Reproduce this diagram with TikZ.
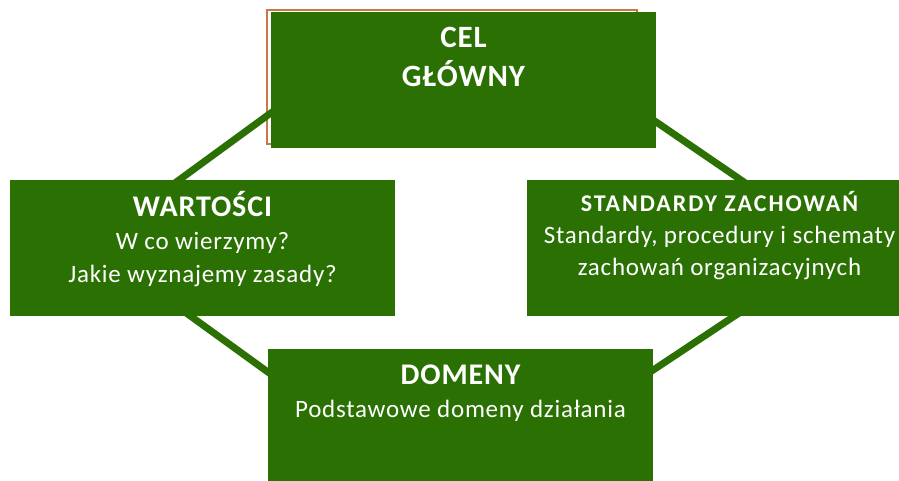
\documentclass[tikz,border=0pt]{standalone}
\usepackage{fontspec}
\setmainfont{Carlito}[LetterSpace=3]
\usetikzlibrary{backgrounds}

\definecolor{zielony}{RGB}{42,112,2}
\definecolor{braz}{RGB}{196,122,69}

\newcommand\tyt[1]{{\fontsize{30}{30}\selectfont\bfseries #1}}

\tikzset{
  pole/.style={rectangle, fill=zielony, minimum width=385pt, minimum height=136pt, inner sep=0pt},
  opis/.style={text=white, align=center, anchor=base, inner sep=0pt, font=\fontsize{25}{33}\selectfont},
  lacznik/.style={draw=zielony, line width=7pt, shorten <=-6pt, shorten >=-6pt}
}

\begin{document}
\begin{tikzpicture}[x=1pt,y=-1pt]
    \useasboundingbox (0,0) rectangle (899,480);
    % pola
    \node[pole] (cel)  at (463.5,80)  {};
    \node[pole] (wart) at (202.5,247.5) {};
    \node[pole] (std)  at (719.5,247.5) {};
    \node[pole] (dom)  at (460.5,417) {};
    % teksty (base = ostatnia linia)
    \node[opis, font=\fontsize{31}{39}\selectfont\bfseries] (celtxt) at ([yshift=-75pt]cel.north) {CEL\\GŁÓWNY};
    \node[opis] (warttxt) at ([yshift=-103pt]wart.north) {\tyt{WARTOŚCI}\\W co wierzymy?\\Jakie wyznajemy zasady?};
    \node[opis, font=\fontsize{25}{32}\selectfont] (stdtxt) at ([yshift=-96pt]std.north)
        {{\fontsize{24}{24}\selectfont\bfseries\addfontfeatures{LetterSpace=8}STANDARDY ZACHOWAŃ}\\Standardy, procedury i schematy\\zachowań organizacyjnych};
    \node[opis] (domtxt) at ([yshift=-69pt]dom.north) {\tyt{DOMENY}\\Podstawowe domeny działania};
    % linie
    \begin{pgfonlayer}{background}
        \draw[braz, line width=1.5pt] (267,10) rectangle (637,144);
        \draw[lacznik] ([yshift=-33pt]cel.west) -- ([xshift=-22.5pt]wart.north);
        \draw[lacznik] ([yshift=-42pt]cel.east) -- ([xshift=20.5pt]std.north);
        \draw[lacznik] ([xshift=-12.5pt]wart.south) -- ([yshift=45pt]dom.west);
        \draw[lacznik] ([xshift=15.5pt]std.south) -- ([yshift=47pt]dom.east);
    \end{pgfonlayer}
\end{tikzpicture}
\end{document}
